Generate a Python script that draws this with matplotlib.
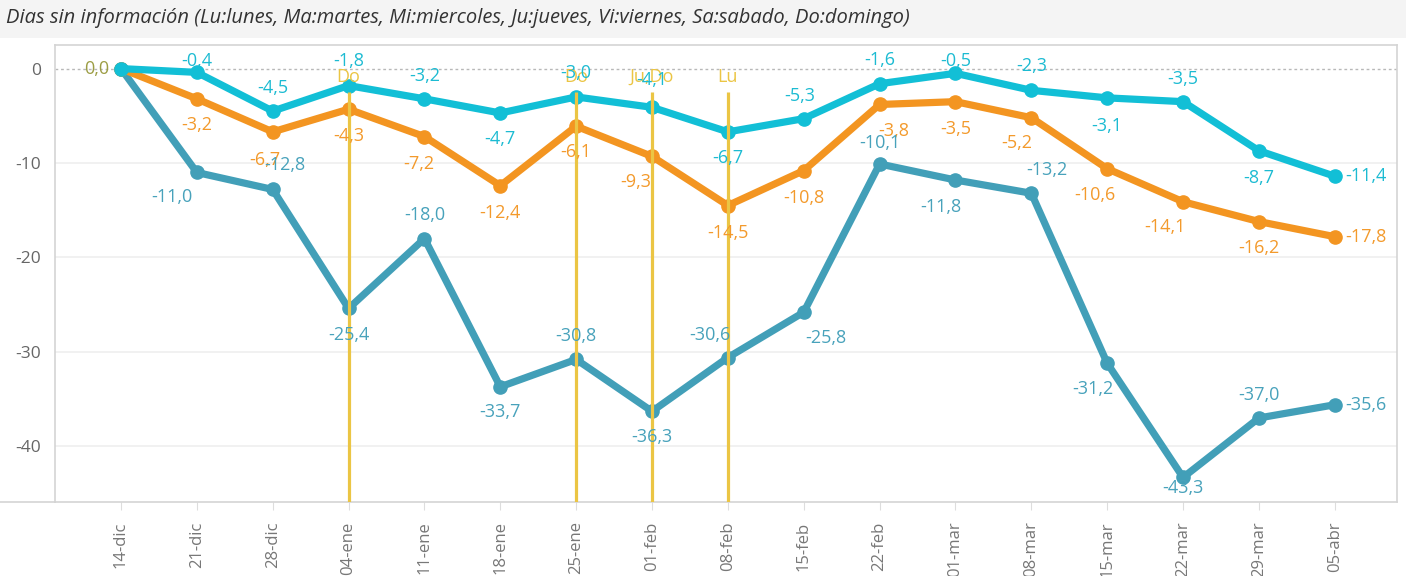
import matplotlib.pyplot as plt
from matplotlib.patches import Rectangle
from matplotlib.lines import Line2D

plt.rcParams['font.family'] = ['Open Sans', 'DejaVu Sans']

fechas = ['14-dic', '21-dic', '28-dic', '04-ene', '11-ene', '18-ene', '25-ene', '01-feb',
          '08-feb', '15-feb', '22-feb', '01-mar', '08-mar', '15-mar', '22-mar', '29-mar', '05-abr']
serie_cian = [0.0, -0.4, -4.5, -1.8, -3.2, -4.7, -3.0, -4.1, -6.7, -5.3, -1.6, -0.5, -2.3, -3.1, -3.5, -8.7, -11.4]
serie_naranja = [0.0, -3.2, -6.7, -4.3, -7.2, -12.4, -6.1, -9.3, -14.5, -10.8, -3.8, -3.5, -5.2, -10.6, -14.1, -16.2, -17.8]
serie_azul = [0.0, -11.0, -12.8, -25.4, -18.0, -33.7, -30.8, -36.3, -30.6, -25.8, -10.1, -11.8, -13.2, -31.2, -43.3, -37.0, -35.6]
# semanas con dias sin informacion
marcas_idx = [3, 6, 7, 8]
marcas_txt = ['Do', 'Do', 'Ju,Do', 'Lu']

# label offsets in pixels (dx, dy), first point handled apart
off_cian = [None, (0, 11), (0, 23), (0, 25), (0, 23), (0, -26), (0, 24), (0, 27), (0, -26), (-4, 23),
            (0, 24), (0, 12), (0, 24), (0, -28), (0, 23), (0, -27), 'r']
off_naranja = [None, (0, -26), (-8, -28), (0, -27), (-6, -27), (0, -27), (0, -26), (-16, -26), (0, -27),
               (0, -27), (14, -27), (0, -27), (-15, -25), (-12, -26), (-18, -25), (0, -26), 'r']
off_azul = [None, (-25, -25), (12, 24), (0, -27), (0, 24), (0, -25), (0, 23), (0, -26), (-18, 23),
            (22, -26), (0, 21), (-15, -27), (16, 23), (-14, -26), (0, -11), (0, 23), 'r']

c_cian = '#12bfd6'
c_naranja = '#f39521'
c_azul = '#429fb8'
c_amarillo = '#ebc544'

fig = plt.figure(figsize=(14.06, 5.76), dpi=100)
fig.patches.append(Rectangle((0, 1 - 38 / 576), 1, 38 / 576, transform=fig.transFigure,
                             facecolor='#f4f4f4', edgecolor='none', zorder=0))
fig.text(0.004, 1 - 18 / 576, 'Dias sin información (Lu:lunes, Ma:martes, Mi:miercoles, Ju:jueves, '
         'Vi:viernes, Sa:sabado, Do:domingo)', fontsize=14.5, style='italic', color='#333333',
         va='center', ha='left')

ax = fig.add_axes([55 / 1406, 1 - 502 / 576, (1397 - 55) / 1406, (502 - 45) / 576])
x = list(range(len(fechas)))

ax.axhline(0, color='#b8b8b8', lw=1, ls=(0, (2, 2)), zorder=1)
for serie, col in [(serie_azul, c_azul), (serie_naranja, c_naranja), (serie_cian, c_cian)]:
    ax.plot(x, serie, color=col, lw=5.2, marker='o', ms=9.5, solid_joinstyle='round', zorder=3)

for i, t in zip(marcas_idx, marcas_txt):
    ax.vlines(i, -50, -2.5, color=c_amarillo, lw=2.3, zorder=4)
    ax.text(i, -0.9, t, color=c_amarillo, fontsize=13, ha='center', va='center', zorder=5)

for serie, offs, col in [(serie_cian, off_cian, '#1cbbd2'), (serie_naranja, off_naranja, '#f39a2c'),
                         (serie_azul, off_azul, '#48a2bb')]:
    for i, (v, o) in enumerate(zip(serie, offs)):
        if o is None:
            continue
        txt = f'{v:.1f}'.replace('.', ',')
        if o == 'r':
            ax.annotate(txt, (i, v), xytext=(10, 0), textcoords='offset pixels', color=col,
                        fontsize=13, ha='left', va='center', zorder=6, annotation_clip=False)
        else:
            ax.annotate(txt, (i, v), xytext=o, textcoords='offset pixels', color=col,
                        fontsize=13, ha='center', va='center', zorder=6)
ax.annotate('0,0', (0, 0), xytext=(-12, 0), textcoords='offset pixels', color='#9c9d44',
            fontsize=13, ha='right', va='center', zorder=6)

ax.set_xlim(-0.87, 16.82)
ax.set_ylim(-45.9, 2.5)
ax.set_yticks([0, -10, -20, -30, -40])
ax.set_yticklabels(['0', '-10', '-20', '-30', '-40'])
ax.set_xticks(x)
ax.set_xticklabels(fechas, rotation=90, va='top', ha='center')
ax.tick_params(axis='y', length=0, pad=10, labelsize=12.5, labelcolor='#666666')
ax.tick_params(axis='x', length=6, color='#dddddd', pad=8, labelsize=12, labelcolor='#777777')
for t in [-10, -20, -30, -40]:
    ax.axhline(t, color='#efefef', lw=1.2, zorder=0)
for s in ax.spines.values():
    s.set_color('#d4d4d4')
    s.set_linewidth(1.2)
fig.lines.append(Line2D([0, 55 / 1406], [1 - 502 / 576] * 2, transform=fig.transFigure,
                        color='#d4d4d4', lw=1.2))

fig.savefig('out.png', dpi=100)
